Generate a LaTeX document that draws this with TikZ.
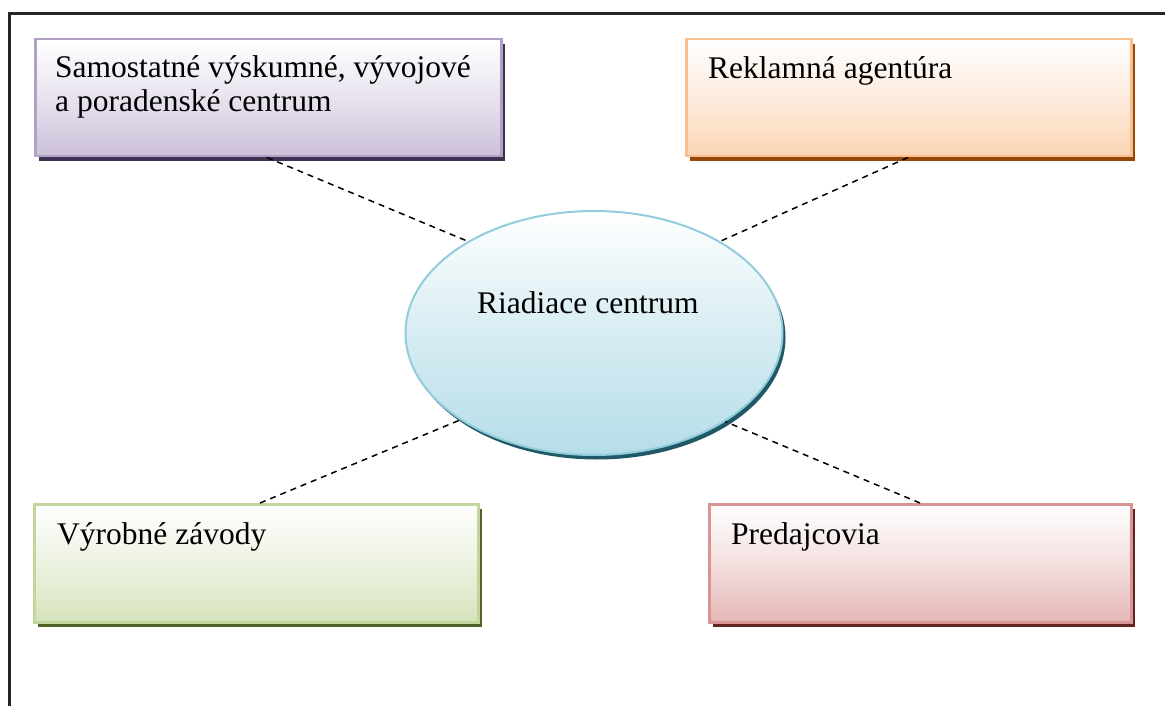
\documentclass[tikz,border=0pt]{standalone}
\usepackage{fontspec}
\setmainfont{Liberation Serif}
\usetikzlibrary{shapes.geometric,shadows,calc}

\definecolor{purpleedge}{HTML}{B2A1C7}
\definecolor{purplefill}{HTML}{CCC0DA}
\definecolor{purpleshade}{HTML}{3F3151}
\definecolor{orangeedge}{HTML}{FABF8F}
\definecolor{orangefill}{HTML}{FBD4B4}
\definecolor{orangeshade}{HTML}{984806}
\definecolor{greenedge}{HTML}{C2D69B}
\definecolor{greenfill}{HTML}{D6E3BC}
\definecolor{greenshade}{HTML}{4F6228}
\definecolor{rededge}{HTML}{D99594}
\definecolor{redfill}{HTML}{E5B8B7}
\definecolor{redshade}{HTML}{622423}
\definecolor{blueedge}{HTML}{92CDDC}
\definecolor{bluefill}{HTML}{B6DDE8}
\definecolor{blueshade}{HTML}{205867}

\tikzset{
  unitbox/.style n args={3}{
    rectangle, inner sep=0pt, anchor=north west,
    line width=2.5pt, draw=#1,
    top color=white, bottom color=#2, middle color=#2!45!white,
    drop shadow={shadow xshift=3.5pt, shadow yshift=-4.5pt, fill=#3, opacity=1}
  },
  boxlabel/.style={anchor=base west, inner sep=0pt, align=left,
    font=\fontsize{31.5}{34}\selectfont},
  link/.style={draw=black, line width=1.5pt, dash pattern=on 6pt off 5pt}
}

\begin{document}
\begin{tikzpicture}[x=1pt,y=-1pt]
  \useasboundingbox (0,0) rectangle (1165,706);
  \fill[white] (0,0) rectangle (1165,706);

  % page frame, open to the right and at the bottom
  \draw[line width=2.2pt, black!85] (9.5,706) -- (9.5,13.5) -- (1165,13.5);

  % central unit
  \node[ellipse, inner sep=0pt, minimum width=377pt, minimum height=244pt,
        line width=2pt, draw=blueedge,
        top color=white, bottom color=bluefill, middle color=bluefill!55!white,
        drop shadow={shadow xshift=3pt, shadow yshift=-4.5pt, fill=blueshade, opacity=1}]
        (rc) at (594,333) {};
  \node[boxlabel] (rct) at (477,313) {Riadiace centrum};

  % surrounding units (multi-line labels sit on the baseline of their last line)
  \node[unitbox={purpleedge}{purplefill}{purpleshade},
        minimum width=466pt, minimum height=117pt] (vv) at (34,38) {};
  \node[boxlabel] (vvt) at (55,112) {Samostatné výskumné, vývojové\\a poradenské centrum};

  \node[unitbox={orangeedge}{orangefill}{orangeshade},
        minimum width=445pt, minimum height=117pt] (ra) at (685,38) {};
  \node[boxlabel] (rat) at (708,79) {Reklamná agentúra};

  \node[unitbox={greenedge}{greenfill}{greenshade},
        minimum width=444pt, minimum height=118pt] (vz) at (33,503) {};
  \node[boxlabel] (vzt) at (57,544) {Výrobné závody};

  \node[unitbox={rededge}{redfill}{redshade},
        minimum width=422pt, minimum height=118pt] (pr) at (708,503) {};
  \node[boxlabel] (prt) at (731,544) {Predajcovia};

  % dashed links to the central unit
  \draw[link] ($(vv.south west)+(233,0)$) -- (rc.144);
  \draw[link] ($(ra.south west)+(223,0)$) -- (rc.36);
  \draw[link] ($(vz.north west)+(227,0)$) -- (rc.213);
  \draw[link] ($(pr.north west)+(212,0)$) -- (rc.326);
\end{tikzpicture}
\end{document}
